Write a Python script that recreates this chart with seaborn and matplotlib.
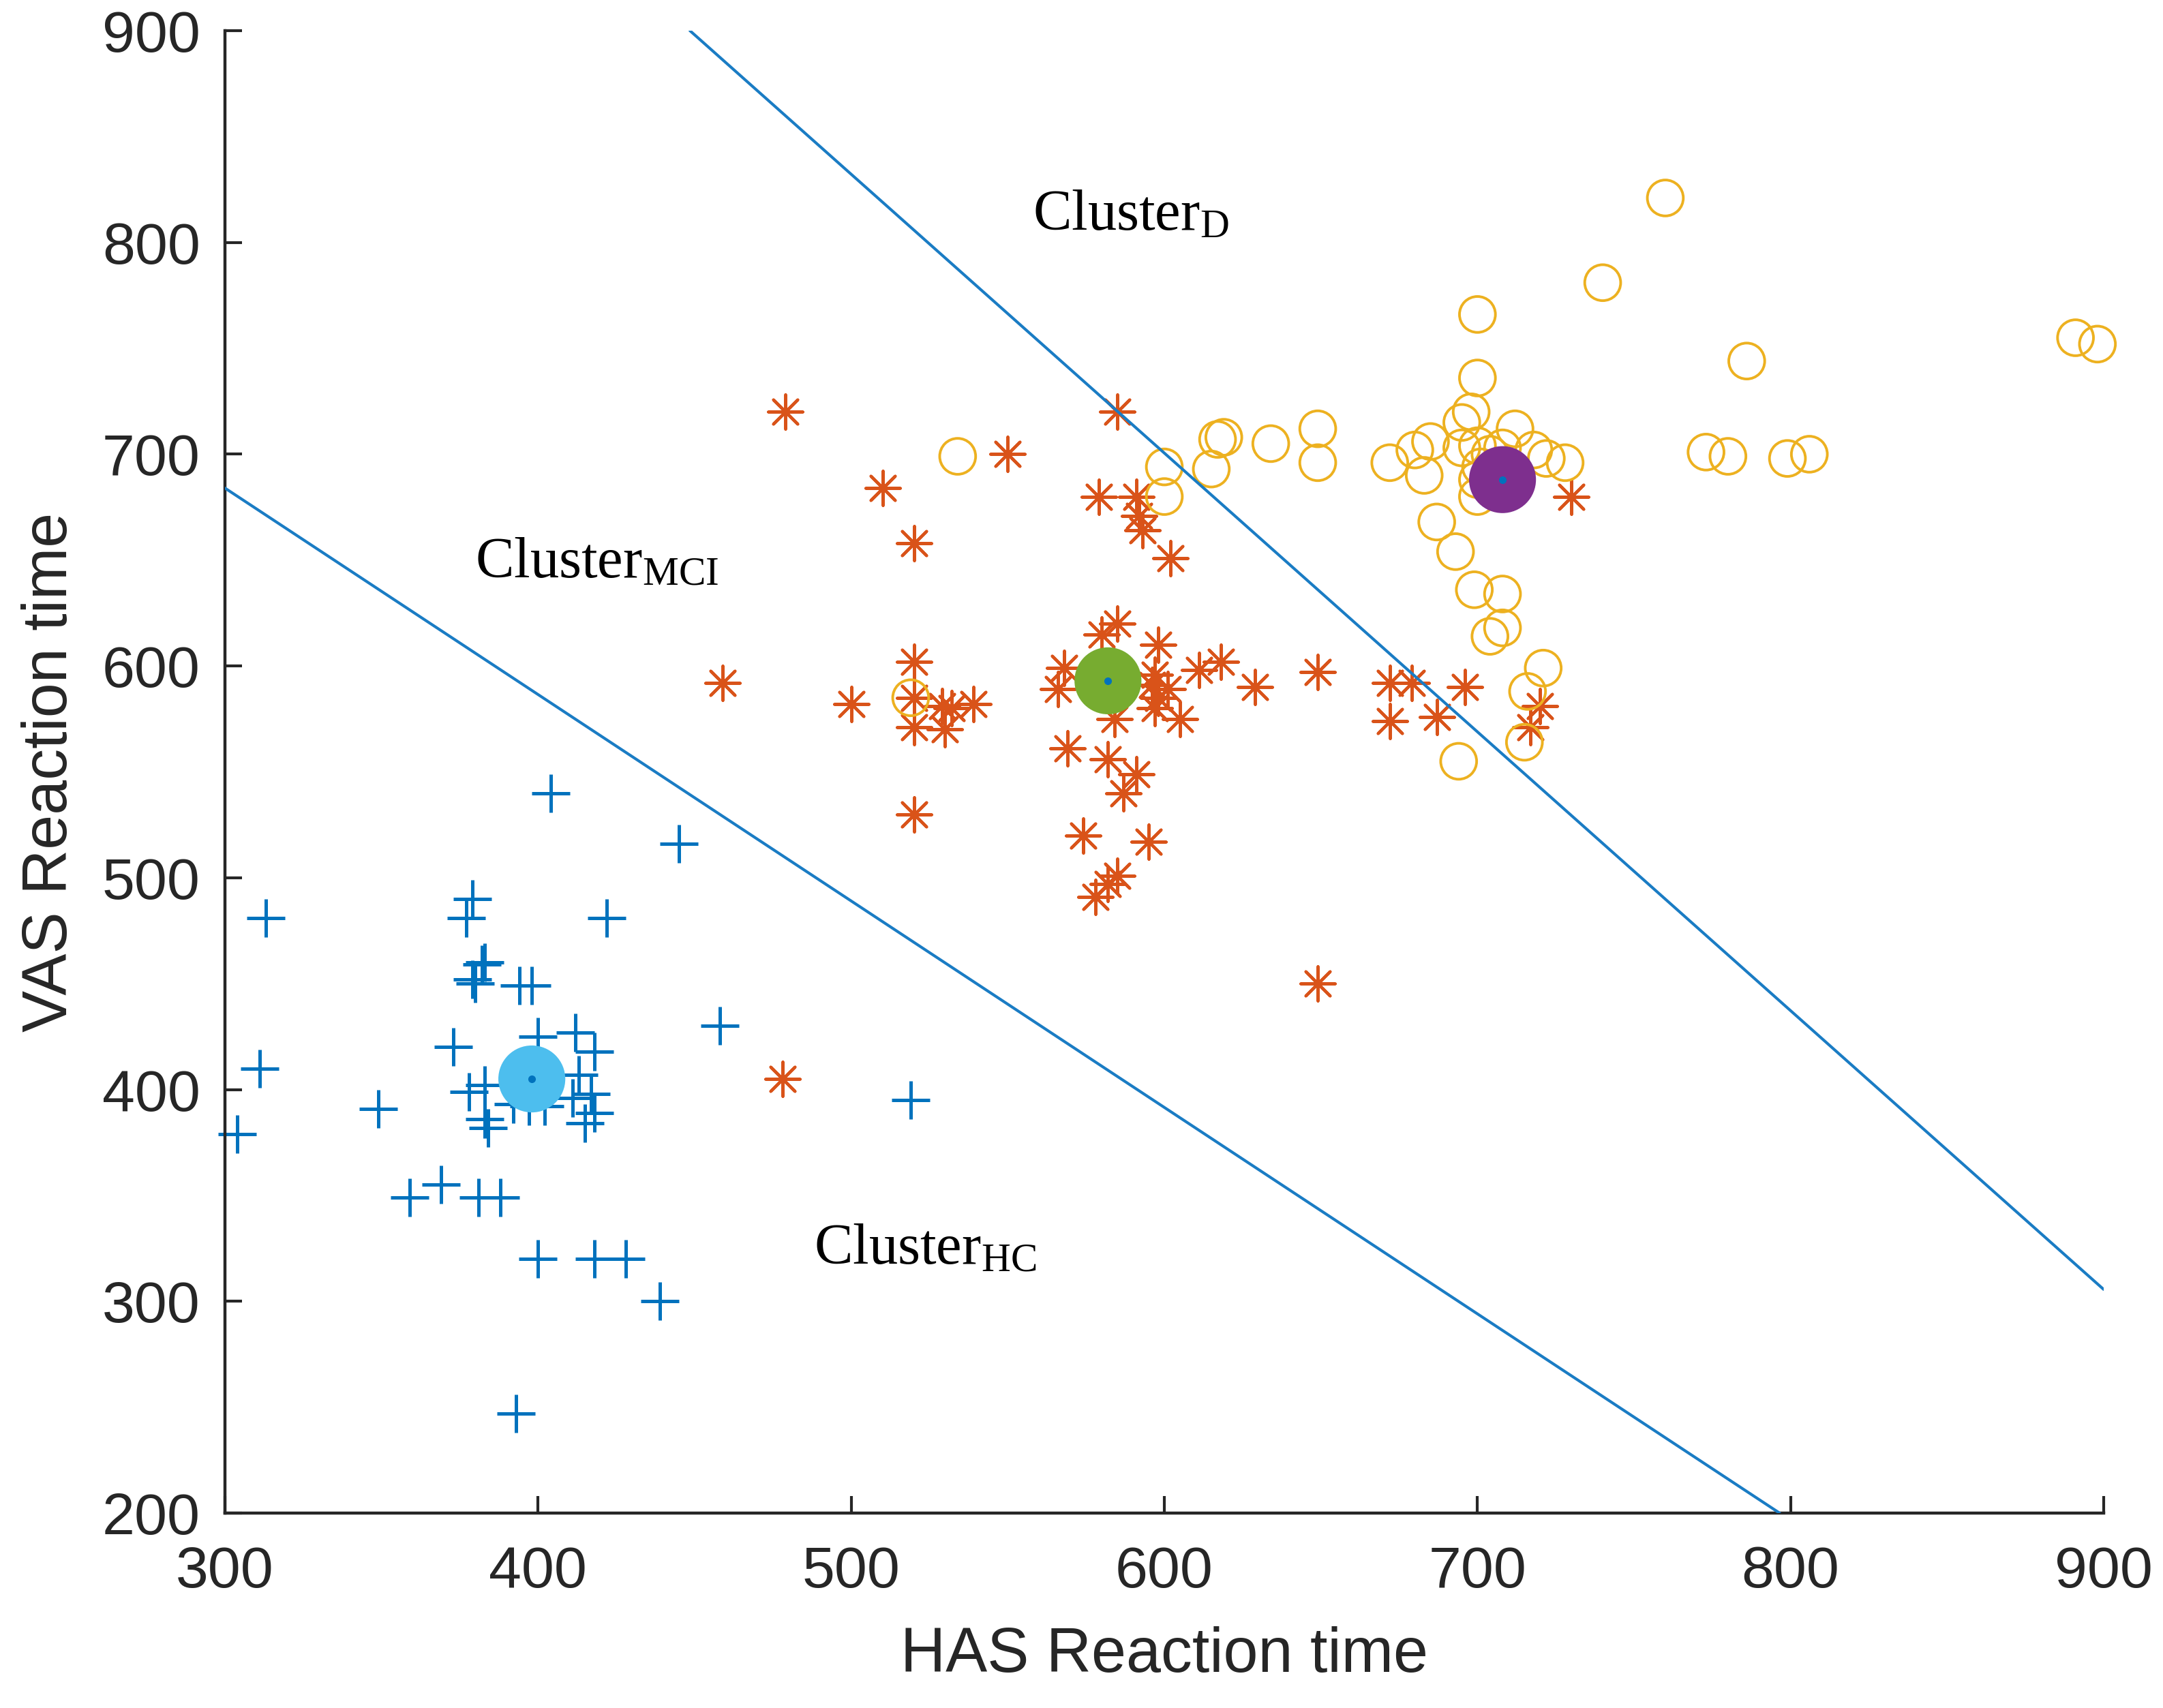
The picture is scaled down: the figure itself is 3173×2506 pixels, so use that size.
import numpy as np
import pandas as pd
import matplotlib
matplotlib.use("Agg")
import matplotlib.pyplot as plt
import seaborn as sns

# ---------------- data ----------------
hc_x = [404, 445, 313, 422, 379, 377, 382, 379, 383, 380, 394, 398, 373, 311, 304, 349, 378, 384, 383,
        458, 412, 418, 413, 417, 418, 411, 415, 359, 369, 381, 388, 400, 418, 428, 439, 393, 383, 392,
        397, 402, 400, 519]
hc_y = [540, 516, 481, 481, 490, 481, 459, 452, 460, 450, 449, 449, 420, 410, 379, 391, 399, 382, 386,
        430, 427, 418, 407, 398, 389, 396, 384, 349, 355, 349, 349, 320, 320, 320, 300, 247, 402, 393,
        392, 392, 425, 395]

mci_x = [479, 585, 550, 510, 520, 579, 591, 592, 593, 602, 459, 500, 520, 520, 520, 529, 532, 539, 530,
         520, 585, 580, 598, 566, 568, 597, 596, 598, 597, 601, 605, 611, 618, 629, 649, 672, 679, 672,
         687, 696, 720, 717, 584, 569, 582, 591, 587, 574, 595, 585, 582, 578, 649, 730, 478]
mci_y = [720, 720, 700, 684, 658, 680, 680, 671, 664, 651, 592, 582, 602, 585, 571, 581, 580, 582, 570,
         530, 620, 615, 610, 589, 599, 596, 591, 585, 580, 589, 575, 598, 602, 590, 597, 592, 592, 574,
         576, 590, 581, 571, 575, 561, 556, 549, 540, 520, 517, 501, 497, 491, 450, 680, 405]

d_x = [760, 740, 700, 786, 891, 898, 700, 698, 695, 712, 534, 600, 600, 615, 617, 619, 634, 649, 649,
       672, 680, 685, 683, 695, 700, 704, 708, 701, 700, 700, 718, 722, 728, 687, 693, 699, 708, 704,
       708, 721, 716, 694, 715, 773, 780, 799, 806, 519]
d_y = [821, 781, 766, 744, 755, 752, 736, 720, 715, 712, 699, 694, 680, 693, 707, 708, 705, 712, 696,
       696, 702, 706, 690, 703, 704, 700, 703, 694, 688, 680, 702, 698, 696, 668, 654, 636, 634, 614,
       618, 599, 588, 555, 564, 701, 699, 698, 700, 585]

centroid_x = [398, 582, 708]
centroid_y = [405, 593, 688]

# decision boundaries (end points)
bound1_x = [300, 796.5]
bound1_y = [684, 200]
bound2_x = [448.5, 900]
bound2_y = [900, 305.6]

labels = ["Cluster", "Cluster", "Cluster"]
label_subs = ["D", "MCI", "HC"]
label_x = [558, 380, 488]
label_y = [806, 642, 318]

x_ticks = [300, 400, 500, 600, 700, 800, 900]
y_ticks = [200, 300, 400, 500, 600, 700, 800, 900]

# ---------------- style ----------------
sns.set_theme(style="white")
plt.rcParams["font.family"] = ["Liberation Sans", "DejaVu Sans"]
plt.rcParams["mathtext.fontset"] = "custom"
plt.rcParams["mathtext.rm"] = "Liberation Serif"
plt.rcParams["mathtext.it"] = "Liberation Serif:italic"

BLUE = "#0072BD"
LINEBLUE = "#1A7CC4"
ORANGE = "#D95319"
YELLOW = "#EDB120"
PURPLE = "#7E2F8E"
GREEN = "#77AC30"
LBLUE = "#4DBEEE"
AXC = "#262626"

DPI = 200
fig = plt.figure(figsize=(3173 / DPI, 2506 / DPI), dpi=DPI)
ax = fig.add_axes([330 / 3173, 1 - 2220 / 2506, (3086 - 330) / 3173, (2220 - 45) / 2506])

# boundary lines
sns.lineplot(x=bound1_x, y=bound1_y, ax=ax, color=LINEBLUE, linewidth=1.5, zorder=3)
sns.lineplot(x=bound2_x, y=bound2_y, ax=ax, color=LINEBLUE, linewidth=1.5, zorder=3)

# clusters
sns.scatterplot(x=hc_x, y=hc_y, ax=ax, marker="+", s=420, color=BLUE, linewidth=1.8, zorder=2)
sns.scatterplot(x=mci_x, y=mci_y, ax=ax, marker=(8, 2, 0), s=330, color=ORANGE, linewidth=1.5, zorder=2)
n_before = len(ax.collections)
sns.scatterplot(x=d_x, y=d_y, ax=ax, marker="o", s=360, color=YELLOW, linewidth=1.4, zorder=2)
coll = ax.collections[n_before]
coll.set_facecolor("none")
coll.set_edgecolor(YELLOW)

# centroids
cent_df = pd.DataFrame({"x": centroid_x, "y": centroid_y, "c": ["HC", "MCI", "D"]})
sns.scatterplot(data=cent_df, x="x", y="y", hue="c", palette={"HC": LBLUE, "MCI": GREEN, "D": PURPLE},
                s=1250, linewidth=0, ax=ax, legend=False, zorder=4)
sns.scatterplot(data=cent_df, x="x", y="y", s=16, color=BLUE, linewidth=0, ax=ax, legend=False, zorder=5)

for c in ax.collections:
    c.set_clip_on(False)

# cluster labels
for t, sub, xx, yy in zip(labels, label_subs, label_x, label_y):
    ax.text(xx, yy, t + r"$_{\mathrm{" + sub + r"}}$", fontsize=30.5, family="Liberation Serif",
            color="black", ha="left", va="baseline", zorder=6)

ax.set_xlim(300, 900)
ax.set_ylim(200, 900)
ax.set_xticks(x_ticks)
ax.set_yticks(y_ticks)
ax.set_xlabel("HAS Reaction time", fontsize=33, color=AXC, labelpad=14)
ax.set_ylabel("VAS Reaction time", fontsize=33, color=AXC, labelpad=12)
ax.tick_params(axis="both", direction="in", length=9, width=1.5, colors=AXC, labelsize=31,
               bottom=True, left=True)
ax.tick_params(axis="x", pad=17)
ax.tick_params(axis="y", pad=13)
for side in ["top", "right"]:
    ax.spines[side].set_visible(False)
for side in ["left", "bottom"]:
    ax.spines[side].set_color(AXC)
    ax.spines[side].set_linewidth(1.6)

fig.savefig("out.png", dpi=DPI, facecolor="white")
